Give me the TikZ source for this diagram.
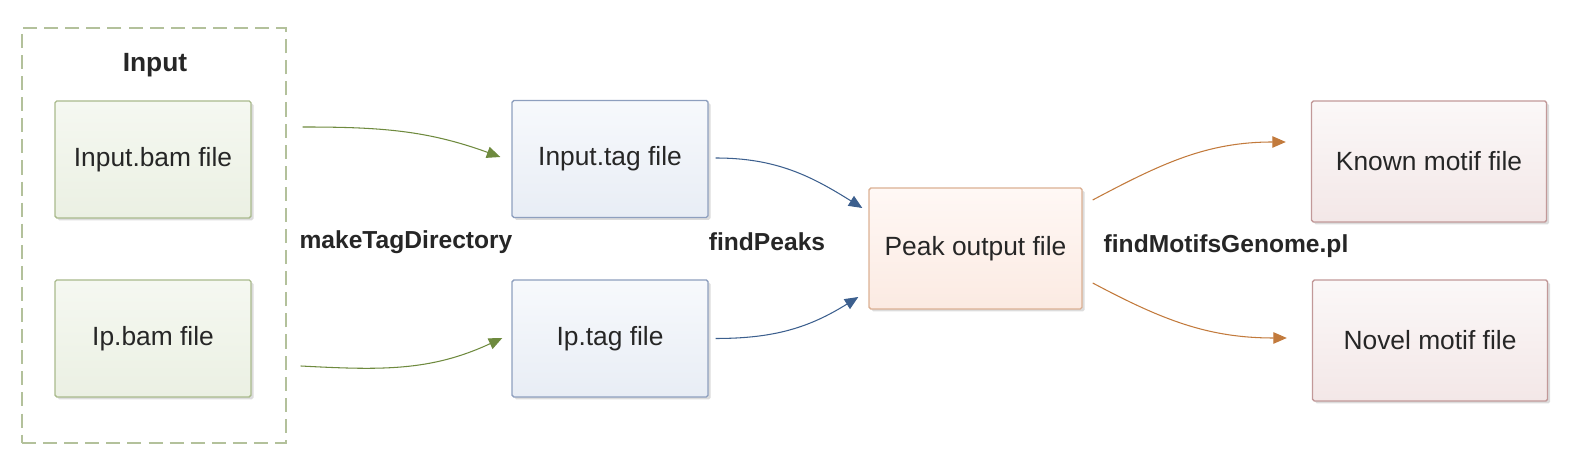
\documentclass[tikz,border=0pt]{standalone}
\usepackage{fontspec}
\setmainfont{Liberation Sans}
\usetikzlibrary{arrows.meta,positioning,shadows}
\definecolor{txt}{HTML}{262626}
\definecolor{bamline}{HTML}{A9BA8C}
\definecolor{boxline}{HTML}{B3C19B}
\definecolor{bamtop}{HTML}{F5F8F1}
\definecolor{bambot}{HTML}{EBF0E3}
\definecolor{tagline}{HTML}{8E9FBE}
\definecolor{tagtop}{HTML}{F7F9FC}
\definecolor{tagbot}{HTML}{E8EDF5}
\definecolor{peakline}{HTML}{DBB093}
\definecolor{peaktop}{HTML}{FFF8F5}
\definecolor{peakbot}{HTML}{FBEAE2}
\definecolor{motifline}{HTML}{C29999}
\definecolor{motiftop}{HTML}{FBF8F8}
\definecolor{motifbot}{HTML}{F3E7E7}
\definecolor{greenarr}{HTML}{6E8A3E}
\definecolor{bluearr}{HTML}{3C5F8E}
\definecolor{orangearr}{HTML}{C27A3C}

\begin{document}
\begin{tikzpicture}[-{Triangle[length=2.7mm,width=2.3mm]},semithick,font=\fontsize{15}{18}\selectfont]
  \tikzstyle{file}=[draw,rectangle,rounded corners=1pt,line width=0.8pt,text=txt,minimum width=3.92cm,minimum height=2.34cm,
    drop shadow={shadow xshift=0.5mm,shadow yshift=-0.5mm,fill=black!30,opacity=0.45}]
  \tikzstyle{bam}=[file,draw=bamline,top color=bamtop,bottom color=bambot]
  \tikzstyle{tag}=[file,draw=tagline,top color=tagtop,bottom color=tagbot]
  \tikzstyle{peakfile}=[file,draw=peakline,top color=peaktop,bottom color=peakbot,minimum width=4.26cm,minimum height=2.42cm]
  \tikzstyle{motif}=[file,draw=motifline,top color=motiftop,bottom color=motifbot,minimum width=4.7cm,minimum height=2.42cm]
  \tikzstyle{tool}=[text=txt,font=\fontsize{14}{17}\selectfont\bfseries]

  \useasboundingbox (0,0) rectangle (31.44,9.3);

  % input group
  \node[draw=boxline,dash pattern=on 8pt off 4pt,line width=0.8pt,minimum width=5.28cm,minimum height=8.3cm] (inputbox) at (3.08,4.59) {};
  \node[text=txt,font=\fontsize{15}{18}\selectfont\bfseries] (inputtitle) at (3.1,8.0) {Input};
  \node[bam] (inbam) at (3.06,6.11) {Input.bam file};
  \node[bam] (ipbam) at (3.06,2.53) {Ip.bam file};

  \node[tag] (intag) at (12.2,6.12) {Input.tag file};
  \node[tag] (iptag) at (12.2,2.53) {Ip.tag file};
  \node[peakfile] (peak) at (19.51,4.33) {Peak output file};
  \node[motif] (known) at (28.58,6.07) {Known motif file};
  \node[motif] (novel) at (28.6,2.49) {Novel motif file};

  \node[tool] (maketag) at (8.12,4.46) {makeTagDirectory};
  \node[tool] (findpeaks) at (15.34,4.46) {findPeaks};
  \node[tool] (findmotifs) at (24.52,4.38) {findMotifsGenome.pl};

  \draw[greenarr] ([xshift=1.02cm,yshift=0.65cm]inbam.east) to[out=0,in=160] ([xshift=-0.22cm,yshift=0.04cm]intag.west);
  \draw[greenarr] ([xshift=0.98cm,yshift=-0.55cm]ipbam.east) to[out=-3,in=205] ([xshift=-0.18cm,yshift=0.01cm]iptag.west);
  \draw[bluearr] ([xshift=0.14cm,yshift=0.02cm]intag.east) to[out=0,in=148] ([xshift=-0.12cm,yshift=0.81cm]peak.west);
  \draw[bluearr] ([xshift=0.14cm]iptag.east) to[out=0,in=212] ([xshift=-0.2cm,yshift=-0.97cm]peak.west);
  \draw[orangearr] ([xshift=0.2cm,yshift=0.97cm]peak.east) to[out=28,in=180] ([xshift=-0.5cm,yshift=0.39cm]known.west);
  \draw[orangearr] ([xshift=0.2cm,yshift=-0.69cm]peak.east) to[out=-28,in=180] ([xshift=-0.5cm,yshift=0.05cm]novel.west);
\end{tikzpicture}
\end{document}
